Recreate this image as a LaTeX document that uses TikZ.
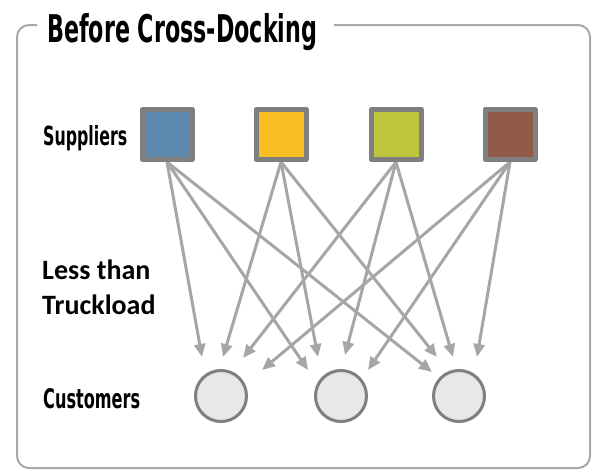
\documentclass[tikz,border=0pt]{standalone}
\usepackage{fontspec}
\usepackage{xcolor}
\usepackage{graphicx}
\usetikzlibrary{positioning,arrows.meta,backgrounds}
\newfontfamily\headfont{DejaVu Sans}
\newfontfamily\lessfont{Carlito}
\definecolor{frameGray}{HTML}{A8A8A8}
\definecolor{boxGray}{HTML}{7F7F7F}
\definecolor{arrowGray}{HTML}{A6A6A6}
\definecolor{custFill}{HTML}{E8E8E8}
\definecolor{supBlue}{HTML}{5F8AAF}
\definecolor{supYellow}{HTML}{F6BE22}
\definecolor{supGreen}{HTML}{BDC53A}
\definecolor{supBrown}{HTML}{8F5B48}

\begin{document}
\begin{tikzpicture}[x=1pt,y=-1pt, line join=round]
		\useasboundingbox (0,0) rectangle (592,472);
		
		% ===== styles =====
		\tikzset{
			frame/.style={draw=frameGray, line width=2pt, rounded corners=12pt},
			supplier/.style={draw=boxGray, line width=5pt, minimum size=50pt, inner sep=0pt},
			customer/.style={circle, draw=boxGray, fill=custFill, line width=3pt, minimum size=51pt, inner sep=0pt},
			flow/.style={draw=arrowGray, line width=3pt, -{Triangle[length=13pt,width=11pt]}},
			lbl/.style={anchor=base west, inner sep=0pt}
		}
		
		% ===== frame + title =====
		\draw[frame] (37,25) -- (17,25) -- (17,468) -- (590,468) -- (590,25) -- (334,25);
		\node[lbl] (title) at (47,42) {\resizebox{270pt}{29pt}{\headfont\bfseries Before Cross-Docking}};
		
		% ===== row labels =====
		\node[lbl] (suplbl) at (43,145) {\resizebox{84pt}{20pt}{\headfont\bfseries Suppliers}};
		\node[lbl] (cuslbl) at (43,408) {\resizebox{97pt}{20pt}{\headfont\bfseries Customers}};
		\node[anchor=north west, inner sep=0pt, align=left, font=\lessfont\bfseries\fontsize{28}{35}\selectfont] (ltl) at (42,259.5) {Less than\\Truckload};
		
		% ===== suppliers (squares) =====
		\foreach \i/\x/\col in {1/167/supBlue, 2/281/supYellow, 3/396/supGreen, 4/510/supBrown}{
			\node[supplier, fill=\col] (s\i) at (\x,134.5) {};
		}
		
		% ===== customers (circles) =====
		\foreach \j/\x in {1/221, 2/341, 3/459}{
			\node[customer] (c\j) at (\x,396) {};
		}
		
		% ===== arrow tips near the customers =====
		\foreach \n/\x/\y in {11/202/357, 12/308/370, 13/432/372,
			21/223/357, 22/318/357, 23/437/357,
			31/243/358, 32/345/355, 33/453/357,
			41/262/370, 42/368/370, 43/477/357}{
			\coordinate (t\n) at (\x,\y);
		}
		
		% ===== every supplier to every customer =====
		\begin{scope}[on background layer]
			\foreach \i in {1,...,4}{
				\foreach \j in {1,2,3}{
					\draw[flow] (s\i.south) -- (t\i\j);
				}
			}
		\end{scope}
\end{tikzpicture}
\end{document}
